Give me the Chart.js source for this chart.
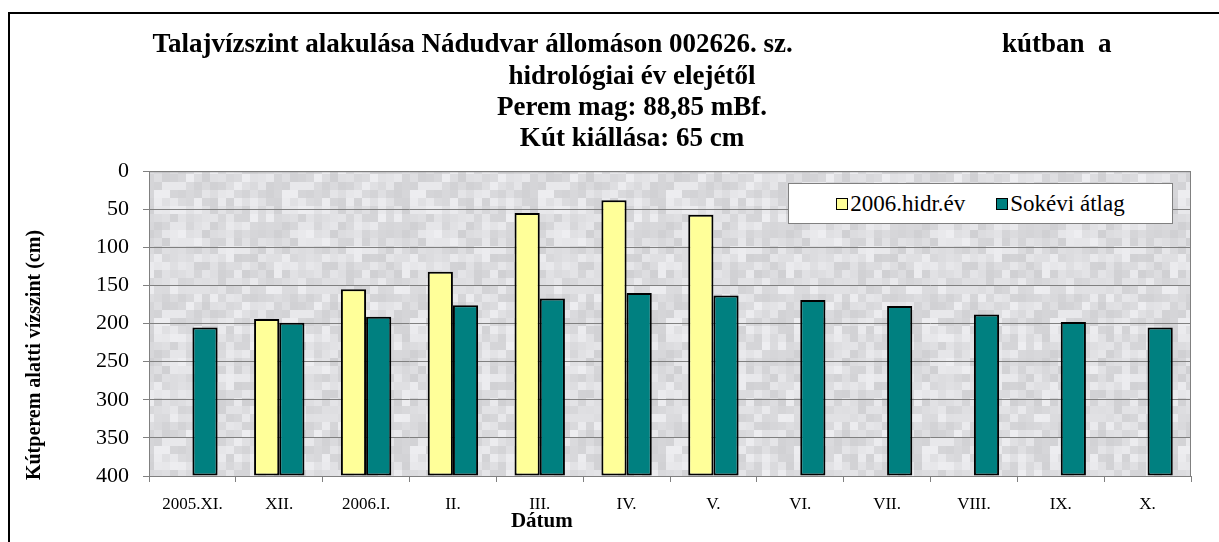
<!DOCTYPE html>
<html>
<head>
<meta charset="utf-8">
<script src="https://cdn.jsdelivr.net/npm/chart.js@4.4.1/dist/chart.umd.min.js"></script>
<style>
  html, body { margin: 0; padding: 0; background: #fff; overflow: hidden; width: 1219px; height: 542px; }
  #frame { position: absolute; left: 8px; top: 12px; width: 1300px; height: 600px; border: 2px solid #000; }
  #chart { position: absolute; left: 0; top: 0; }
  #legend {
    position: absolute; left: 778px; top: 169px; width: 385px; height: 41px;
    background: #fff; border: 1px solid #808080; box-sizing: border-box;
    font-family: "Liberation Serif", "Times New Roman", serif; font-size: 23px; color: #000;
    display: flex; align-items: center; justify-content: center; gap: 31px;
  }
  #legend .item { display: flex; align-items: center; }
  #legend .sw { width: 10px; height: 10px; border: 1px solid #000; margin-right: 2px; }
</style>
</head>
<body>
<div id="frame">
  <canvas id="chart" width="1244" height="528"></canvas>
  <div id="legend"></div>
</div>
<script>
// ============================================
// DATA
// ============================================
const labels = ['2005.XI.', 'XII.', '2006.I.', 'II.', 'III.', 'IV.', 'V.', 'VI.', 'VII.', 'VIII.', 'IX.', 'X.'];
const hidr2006 = [null, 194, 155, 132, 55, 38, 57, null, null, null, null, null];
const sokevi = [205, 199, 191, 176, 167, 160, 163, 169, 177, 188, 198, 205];
const yTicks = [0, 50, 100, 150, 200, 250, 300, 350, 400];

const titleLines = [
  'Talajvízszint alakulása Nádudvar állomáson 002626. sz.' + ' '.repeat(31) + 'kútban  a',
  'hidrológiai év elejétől',
  'Perem mag: 88,85 mBf.',
  'Kút kiállása: 65 cm'
];
const yTitle = 'Kútperem alatti vízszint (cm)';
const xTitleText = 'Dátum';

const SERIF = '"Liberation Serif", "Times New Roman", serif';

// ============================================
// PLUGINS
// ============================================
// grey mottled plot background + grey frame round the plot
const plotBg = {
  id: 'plotBg',
  beforeDraw(chart) {
    const { ctx, chartArea: a } = chart;
    if (!this.pattern) {
      const c = document.createElement('canvas');
      c.width = 128; c.height = 128;
      const g = c.getContext('2d');
      for (let y = 0; y < 16; y++) {
        for (let x = 0; x < 16; x++) {
          const h = Math.abs(Math.sin(x * 12.9898 + y * 78.233) * 43758.5453) % 1;
          const v = Math.round(208 + h * 30);
          g.fillStyle = `rgb(${v},${v},${v + 3})`;
          g.fillRect(x * 8, y * 8, 8, 8);
        }
      }
      this.pattern = ctx.createPattern(c, 'repeat');
    }
    ctx.save();
    ctx.fillStyle = this.pattern;
    ctx.fillRect(a.left, a.top, a.right - a.left, a.bottom - a.top);
    ctx.restore();
  },
  afterDatasetsDraw(chart) {
    const { ctx, chartArea: a } = chart;
    ctx.save();
    ctx.strokeStyle = '#808080';
    ctx.lineWidth = 1;
    ctx.strokeRect(a.left + 0.5, a.top + 0.5, a.right - a.left - 1, a.bottom - a.top);
    ctx.restore();
  }
};

// axis titles sit off-centre in the original, so draw them here
const axisTitles = {
  id: 'axisTitles',
  afterDraw(chart) {
    const { ctx, chartArea: a } = chart;
    ctx.save();
    ctx.fillStyle = '#000';
    ctx.textAlign = 'center';
    ctx.textBaseline = 'middle';
    ctx.font = 'bold 21px ' + SERIF;
    ctx.fillText(xTitleText, a.left + (a.right - a.left) * 0.377, a.bottom + 46);
    ctx.translate(25, a.bottom - 121);
    ctx.rotate(-Math.PI / 2);
    ctx.font = 'bold 20px ' + SERIF;
    ctx.fillText(yTitle, 0, 0);
    ctx.restore();
  }
};

// ============================================
// CHART
// ============================================
const chart = new Chart(document.getElementById('chart'), {
  type: 'bar',
  data: {
    labels: labels,
    datasets: [
      { label: '2006.hidr.év', data: hidr2006, backgroundColor: '#FFFF99', borderColor: '#000', borderWidth: 2, borderSkipped: false, base: 400 },
      { label: 'Sokévi átlag', data: sokevi, backgroundColor: '#008080', borderColor: '#000', borderWidth: 2, borderSkipped: false, base: 400 }
    ]
  },
  options: {
    responsive: false,
    animation: false,
    devicePixelRatio: 1,
    // equal side padding keeps the title centred like the original
    layout: { padding: { left: 63, right: 63, top: 0, bottom: 0 } },
    datasets: { bar: { categoryPercentage: 0.58, barPercentage: 1.0 } },
    plugins: {
      legend: { display: false },
      tooltip: { enabled: false },
      title: {
        display: true,
        text: titleLines,
        color: '#000',
        font: { family: SERIF, size: 27, weight: 'bold', lineHeight: 1.15 },
        padding: { top: 16, bottom: 17 }
      }
    },
    scales: {
      x: {
        offset: true,
        grid: { display: true, drawOnChartArea: false, drawTicks: true, tickLength: 6, color: '#808080', offset: true },
        border: { display: false },
        ticks: { color: '#000', font: { family: SERIF, size: 17 }, padding: 12, maxRotation: 0, autoSkip: false },
        afterFit(s) { s.height = 66; }
      },
      y: {
        reverse: true,
        min: 0,
        max: 400,
        afterBuildTicks(s) { s.ticks = yTicks.map(v => ({ value: v })); },
        grid: { color: '#808080', lineWidth: 1, tickLength: 6 },
        border: { display: false },
        ticks: { color: '#000', font: { family: SERIF, size: 22 }, padding: 14 },
        afterFit(s) { s.width = 76; }
      }
    }
  },
  plugins: [plotBg, axisTitles]
});

// HTML legend built from the datasets
document.getElementById('legend').innerHTML = chart.data.datasets.map(ds =>
  `<div class="item"><span class="sw" style="background:${ds.backgroundColor}"></span>${ds.label}</div>`
).join('');
</script>
</body>
</html>
